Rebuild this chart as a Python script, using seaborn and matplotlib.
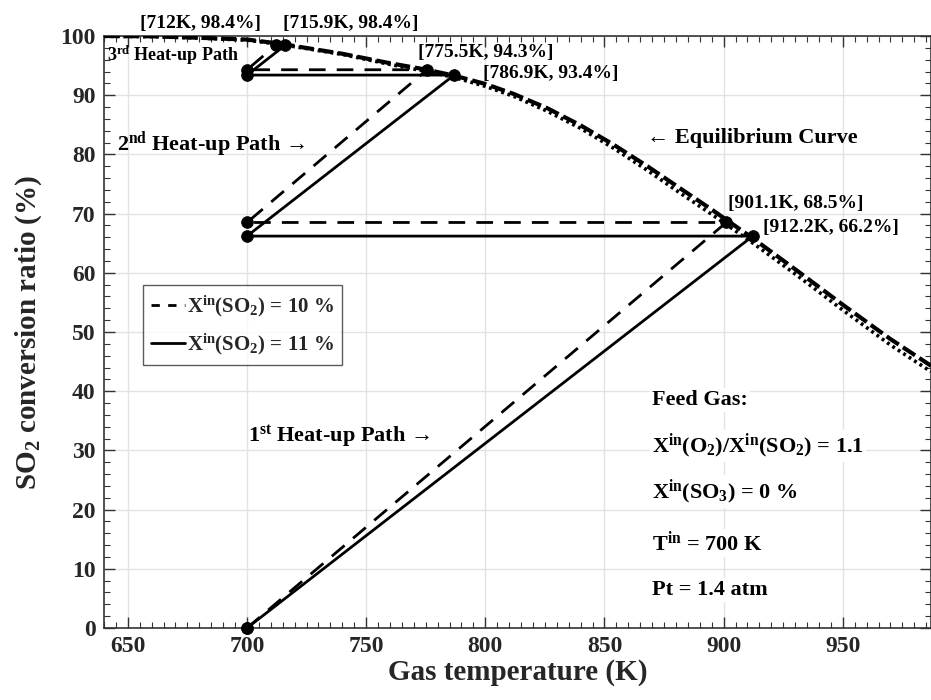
import numpy as np
import pandas as pd
import matplotlib
matplotlib.use("Agg")
import matplotlib.pyplot as plt
import seaborn as sns
from matplotlib.lines import Line2D
from matplotlib.ticker import MultipleLocator

# ---------------- data ----------------
T_eq = [640, 660, 680, 700, 712, 720, 740, 760, 775.5, 787, 800, 812, 826, 840,
        854, 868, 882, 896, 912, 931, 950, 970, 987]
eq_10 = [100.0, 99.95, 99.7, 99.4, 98.8, 98.3, 97.0, 95.4, 94.3, 93.3, 91.9, 90.2,
         87.8, 84.9, 81.6, 78.0, 74.2, 70.4, 65.9, 60.3, 54.6, 48.8, 44.3]
eq_11 = [99.95, 99.9, 99.65, 99.3, 98.7, 98.2, 96.9, 95.2, 94.0, 93.0, 91.5, 89.8,
         87.3, 84.4, 81.0, 77.3, 73.4, 69.6, 65.1, 59.5, 53.7, 47.8, 43.3]

path10_T = [700, 901.1, 700, 775.5, 700, 712]
path10_X = [0, 68.5, 68.5, 94.3, 94.3, 98.4]
path11_T = [700, 912.2, 700, 786.9, 700, 715.9]
path11_X = [0, 66.2, 66.2, 93.4, 93.4, 98.4]

legend_labels = [r"X$^{\rm in}$(SO$_{\rm 2}$) = 10 %", r"X$^{\rm in}$(SO$_{\rm 2}$) = 11 %"]

# ---------------- style ----------------
sns.set_theme(style="whitegrid")
plt.rcParams['font.family'] = ['Liberation Serif', 'DejaVu Serif']
plt.rcParams['font.weight'] = 'bold'
plt.rcParams['mathtext.fontset'] = 'custom'
plt.rcParams['mathtext.rm'] = 'Liberation Serif:bold'
plt.rcParams['mathtext.it'] = 'Liberation Serif:bold'
plt.rcParams['mathtext.bf'] = 'Liberation Serif:bold'

fig = plt.figure(figsize=(9.31, 7.0), dpi=100)
ax = fig.add_axes([104/931, 72/700, 827/931, 592/700])

df10 = pd.DataFrame({"T": T_eq, "X": eq_10})
df11 = pd.DataFrame({"T": T_eq, "X": eq_11})
sns.lineplot(data=df10, x="T", y="X", ax=ax, color="black", lw=3.0, estimator=None,
             linestyle=(0, (3.5, 1.2)), sort=False, zorder=3)
sns.lineplot(data=df11, x="T", y="X", ax=ax, color="black", lw=2.6, estimator=None,
             linestyle=(0, (0.8, 1.0)), sort=False, zorder=3)

p10 = pd.DataFrame({"T": path10_T, "X": path10_X})
p11 = pd.DataFrame({"T": path11_T, "X": path11_X})
sns.lineplot(data=p10, x="T", y="X", ax=ax, color="black", lw=2.0, estimator=None,
             linestyle=(0, (6, 4)), sort=False, zorder=4)
sns.lineplot(data=p11, x="T", y="X", ax=ax, color="black", lw=2.0, estimator=None,
             sort=False, zorder=4)
sns.scatterplot(data=p10, x="T", y="X", ax=ax, color="black", s=70,
                edgecolor="black", zorder=5, clip_on=False)
sns.scatterplot(data=p11, x="T", y="X", ax=ax, color="black", s=70,
                edgecolor="black", zorder=5, clip_on=False)

ax.set_xlim(640, 987)
ax.set_ylim(0, 100)
ax.xaxis.set_major_locator(MultipleLocator(50))
ax.xaxis.set_minor_locator(MultipleLocator(5))
ax.yaxis.set_major_locator(MultipleLocator(10))
ax.yaxis.set_minor_locator(MultipleLocator(2))
ax.grid(True, which='major', color='#e3e3e3', lw=1.0)
ax.grid(False, which='minor')
ax.tick_params(which='both', direction='in', top=True, right=True,
               bottom=True, left=True, color='#333333')
ax.tick_params(which='major', length=8, width=1.0, labelsize=17, pad=6)
ax.tick_params(which='minor', length=4, width=0.8)
for lab in ax.get_xticklabels() + ax.get_yticklabels():
    lab.set_fontweight('bold')
for s in ax.spines.values():
    s.set_color('#333333')
    s.set_linewidth(1.2)

ax.set_xlabel("Gas temperature (K)", fontsize=21, fontweight='bold', labelpad=1)
ax.set_ylabel(r"SO$_{\rm 2}$ conversion ratio (%)", fontsize=21, fontweight='bold', labelpad=12)

# legend
handles = [Line2D([], [], color='black', lw=2.0, linestyle=(0, (3, 3))),
           Line2D([], [], color='black', lw=2.0)]
leg = ax.legend(handles, legend_labels, loc='upper left', bbox_to_anchor=(0.047, 0.58),
                fontsize=15, handlelength=1.6, handletextpad=0.1, borderpad=0.4,
                labelspacing=0.6, fancybox=False, frameon=True, borderaxespad=0)
leg.get_frame().set_edgecolor('#333333')
leg.get_frame().set_linewidth(1.0)
for t in leg.get_texts():
    t.set_fontweight('bold')

tk = dict(fontweight='bold', color='black')
ax.text(655.1, 101.35, "[712K, 98.4%]", fontsize=14, ha='left', va='baseline', clip_on=False, **tk)
ax.text(715.2, 101.35, "[715.9K, 98.4%]", fontsize=14, ha='left', va='baseline', clip_on=False, **tk)
ax.text(641.1, 95.7, r"3$^{\rm rd}$ Heat-up Path", fontsize=13, ha='left', va='baseline', **tk)
ax.text(771.8, 96.5, "[775.5K, 94.3%]", fontsize=14, ha='left', va='baseline', **tk)
ax.text(799.0, 92.85, "[786.9K, 93.4%]", fontsize=14, ha='left', va='baseline', **tk)
ax.text(645.6, 80.7, r"2$^{\rm nd}$ Heat-up Path →", fontsize=16, ha='left', va='baseline', **tk)
ax.text(867.7, 81.9, "← Equilibrium Curve", fontsize=16, ha='left', va='baseline', **tk)
ax.text(901.9, 70.9, "[901.1K, 68.5%]", fontsize=14, ha='left', va='baseline', **tk)
ax.text(916.5, 66.95, "[912.2K, 66.2%]", fontsize=14, ha='left', va='baseline', **tk)
ax.text(700.4, 31.4, r"1$^{\rm st}$ Heat-up Path →", fontsize=16, ha='left', va='baseline', **tk)

bb = dict(facecolor='white', edgecolor='none', pad=1.5)
feed = ["Feed Gas:",
        r"X$^{\rm in}$(O$_{\rm 2}$)/X$^{\rm in}$(SO$_{\rm 2}$) = 1.1",
        r"X$^{\rm in}$(SO$_{\rm 3}$) = 0 %",
        r"T$^{\rm in}$ = 700 K",
        "Pt = 1.4 atm"]
feed_y = [37.7, 29.7, 22.0, 13.1, 5.6]
for s, y in zip(feed, feed_y):
    ax.text(870, y, s, fontsize=16, ha='left', va='baseline', bbox=bb, zorder=6, **tk)

fig.savefig("out.png", dpi=100)
